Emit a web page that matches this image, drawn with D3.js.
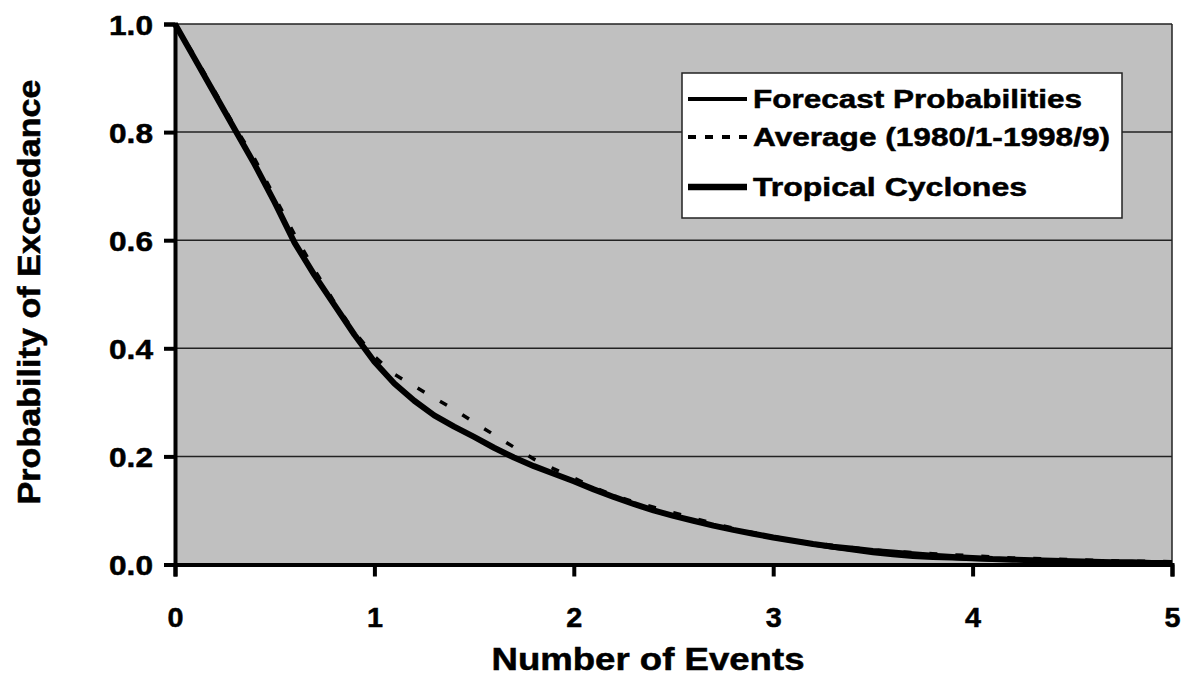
<!DOCTYPE html>
<html><head><meta charset="utf-8">
<script src="https://cdn.jsdelivr.net/npm/d3@7"></script>
<style>
html,body{margin:0;padding:0;background:#fff;}
svg{display:block;}
text{font-family:"Liberation Sans",Arial,sans-serif;font-weight:bold;fill:#000;stroke:#000;stroke-width:0.5px;}
</style></head>
<body>
<svg id="chart" width="1190" height="677"></svg>
<script>
// x values: number of events (0 .. 5 step 0.1)
const xValues = [0,0.1,0.2,0.3,0.4,0.5,0.6,0.7,0.8,0.9,1.0,1.1,1.2,1.3,1.4,1.5,1.6,1.7,1.8,1.9,2.0,2.1,2.2,2.3,2.4,2.5,2.6,2.7,2.8,2.9,3.0,3.1,3.2,3.3,3.4,3.5,3.6,3.7,3.8,3.9,4.0,4.1,4.2,4.3,4.4,4.5,4.6,4.7,4.8,4.9,5.0];
const tropicalCyclones = [1.0,0.935,0.87,0.805,0.74,0.67,0.595,0.535,0.48,0.425,0.375,0.335,0.303,0.276,0.255,0.236,0.216,0.198,0.182,0.168,0.154,0.139,0.125,0.112,0.100,0.090,0.081,0.072,0.064,0.057,0.050,0.044,0.038,0.033,0.029,0.025,0.022,0.019,0.016,0.014,0.012,0.010,0.009,0.008,0.007,0.006,0.005,0.004,0.004,0.003,0.003];
const forecastProbabilities = [1.0,0.935,0.87,0.805,0.74,0.67,0.595,0.535,0.48,0.425,0.375,0.335,0.303,0.276,0.255,0.236,0.216,0.198,0.182,0.168,0.154,0.139,0.125,0.112,0.100,0.090,0.081,0.072,0.064,0.057,0.050,0.043,0.036,0.030,0.025,0.020,0.016,0.013,0.011,0.010,0.009,0.008,0.008,0.007,0.006,0.005,0.005,0.004,0.004,0.003,0.003];
const averageValues = [1.0,0.94,0.875,0.81,0.75,0.68,0.61,0.545,0.485,0.43,0.385,0.352,0.330,0.308,0.287,0.263,0.240,0.217,0.195,0.177,0.160,0.143,0.128,0.116,0.106,0.096,0.086,0.076,0.067,0.059,0.052,0.045,0.040,0.035,0.031,0.027,0.024,0.022,0.020,0.018,0.016,0.014,0.012,0.011,0.010,0.009,0.008,0.007,0.006,0.006,0.005];
const xTicks = [0,1,2,3,4,5];
const yTicks = [0,0.2,0.4,0.6,0.8,1.0];
const legendLabels = ["Forecast Probabilities","Average (1980/1-1998/9)","Tropical Cyclones"];

const svg = d3.select("#chart");
const pL = 175, pR = 1172, pT = 24, pB = 564.5;
const x = d3.scaleLinear().domain([0,5]).range([pL,pR]);
const y = d3.scaleLinear().domain([0,1]).range([pB,pT]);

// plot background
svg.append("rect").attr("x",pL).attr("y",pT).attr("width",pR-pL).attr("height",pB-pT).attr("fill","#c0c0c0");

// gridlines
svg.append("g").selectAll("line").data(yTicks.filter(d=>d>0)).join("line")
  .attr("x1",pL).attr("x2",pR).attr("y1",d=>y(d)).attr("y2",d=>y(d))
  .attr("stroke","#222").attr("stroke-width",1.5);
// right border
svg.append("line").attr("x1",pR).attr("x2",pR).attr("y1",pT).attr("y2",pB).attr("stroke","#222").attr("stroke-width",1.5);

// lines
const mk = vals => d3.line().x((d,i)=>x(xValues[i])).y(d=>y(d))(vals);
svg.append("path").attr("d",mk(averageValues)).attr("fill","none").attr("stroke","#000").attr("stroke-width",3.5).attr("stroke-dasharray","8,18");
svg.append("path").attr("d",mk(forecastProbabilities)).attr("fill","none").attr("stroke","#000").attr("stroke-width",3);
svg.append("path").attr("d",mk(tropicalCyclones)).attr("fill","none").attr("stroke","#000").attr("stroke-width",6).attr("stroke-linejoin","round");

// axes
const yAxis = svg.append("g").attr("transform",`translate(${pL},0)`)
  .call(d3.axisLeft(y).tickValues(yTicks).tickFormat(d3.format(".1f")).tickSize(11).tickPadding(11));
const xAxis = svg.append("g").attr("transform",`translate(0,${pB})`)
  .call(d3.axisBottom(x).tickValues(xTicks).tickFormat(d3.format("d")).tickSize(12).tickPadding(14));
[yAxis,xAxis].forEach(g=>{
  g.select(".domain").attr("stroke","#000").attr("stroke-width",4);
  g.selectAll(".tick line").attr("stroke","#000").attr("stroke-width",4);
  g.selectAll(".tick text").style("font-family",'"Liberation Sans",Arial,sans-serif').style("font-weight","bold").style("font-size","28px").attr("fill","#000");
});
yAxis.selectAll(".tick text").attr("textLength",44).attr("lengthAdjust","spacingAndGlyphs").attr("dy","0.36em");
xAxis.selectAll(".tick text").attr("y",627-pB).attr("dy",0).attr("textLength",16).attr("lengthAdjust","spacingAndGlyphs");

// axis titles
svg.append("text").attr("x",648).attr("y",670).attr("text-anchor","middle").style("font-size","31px")
  .attr("textLength",313).attr("lengthAdjust","spacingAndGlyphs").text("Number of Events");
svg.append("text").attr("transform",`translate(40,${292}) rotate(-90)`).attr("text-anchor","middle").style("font-size","31px")
  .attr("textLength",425).attr("lengthAdjust","spacingAndGlyphs").text("Probability of Exceedance");

// legend
const lg = svg.append("g");
lg.append("rect").attr("x",682).attr("y",73).attr("width",440).attr("height",145).attr("fill","#fff").attr("stroke","#222").attr("stroke-width",1.5);
const rowsY = [99,137,187];
const legendWidths = [329,357,274];
const styles = [{w:4,dash:null},{w:4,dash:"8,9"},{w:6.5,dash:null}];
legendLabels.forEach((lab,i)=>{
  lg.append("line").attr("x1",688).attr("x2",747).attr("y1",rowsY[i]).attr("y2",rowsY[i])
    .attr("stroke","#000").attr("stroke-width",styles[i].w).attr("stroke-dasharray",styles[i].dash);
  lg.append("text").attr("x",753).attr("y",rowsY[i]+8.5).style("font-size","26px")
    .attr("textLength",legendWidths[i]).attr("lengthAdjust","spacingAndGlyphs").text(lab);
});
</script>
</body></html>
